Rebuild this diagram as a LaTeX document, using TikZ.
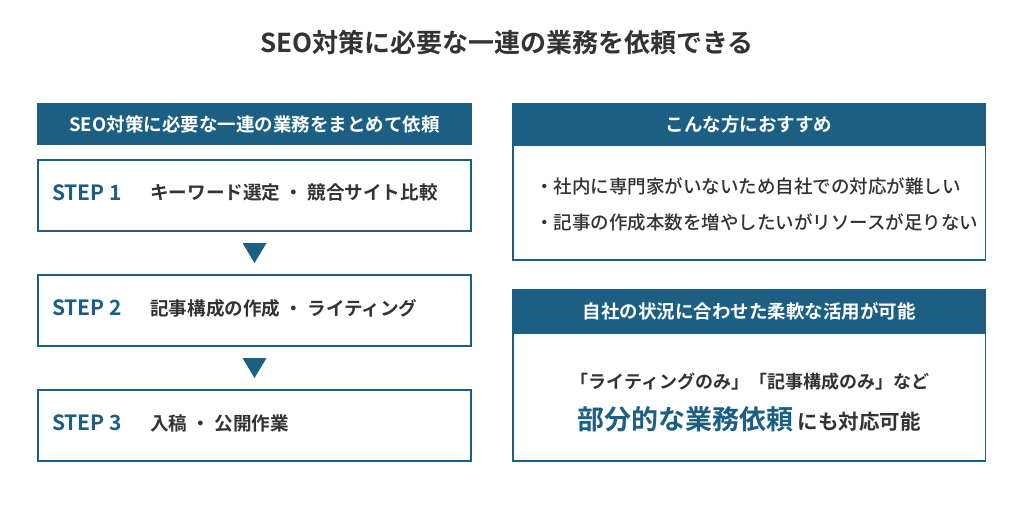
\documentclass[tikz,border=0pt]{standalone}
\usepackage{fontspec}
\setmainfont{Noto Sans CJK JP}[BoldFont={Noto Sans CJK JP Bold}]
\newfontfamily\jpmed{Noto Sans CJK JP Medium}
\usetikzlibrary{calc}
\definecolor{mainblue}{HTML}{1C5F82}
\definecolor{txt}{HTML}{333333}
\tikzset{
  hdr/.style={fill=mainblue, draw=none, minimum width=435pt, minimum height=42pt, inner sep=0pt,
    text=white, font=\fontsize{18.5}{20}\selectfont\bfseries},
  stepbox/.style={draw=mainblue, line width=2pt, fill=white, minimum width=433pt, minimum height=71pt, inner sep=0pt},
  steplabel/.style={anchor=west, inner sep=0pt, text=mainblue, font=\fontsize{21}{24}\selectfont\bfseries},
  steptext/.style={anchor=west, inner sep=0pt, text=txt, font=\fontsize{18.6}{20}\selectfont\bfseries},
  rhdr/.style={fill=mainblue, draw=none, minimum width=474pt, inner sep=0pt,
    text=white, font=\fontsize{18.5}{20}\selectfont\bfseries},
  rbody/.style={draw=mainblue, line width=1.5pt, fill=white, minimum width=472.5pt, inner sep=0pt},
  rtext/.style={anchor=west, inner sep=0pt, text=txt, font=\jpmed\fontsize{18.5}{20}\selectfont},
  tri/.style={fill=mainblue, draw=none},
}
\begin{document}
\begin{tikzpicture}[x=1pt, y=-1pt]
\useasboundingbox (0,0) rectangle (1024,508);
\fill[white] (0,0) rectangle (1024,508);

\node[inner sep=0pt, text=txt, font=\fontsize{26}{30}\selectfont\bfseries] (title) at (507,42.5) {SEO対策に必要な一連の業務を依頼できる};

% left column
\node[hdr] (lh) at (254.5,124) {SEO対策に必要な一連の業務をまとめて依頼};
\node[stepbox] (s1) at (254.5,195.5) {};
\node[stepbox] (s2) at (254.5,310.5) {};
\node[stepbox] (s3) at (254.5,425.5) {};

\node[steplabel] (l1) at (52,192.5) {STEP 1};
\node[steptext] (t1) at (150,192.5) {キーワード選定 ・ 競合サイト比較};
\node[steplabel] (l2) at (52,308) {STEP 2};
\node[steptext] (t2) at (150,308) {記事構成の作成 ・ ライティング};
\node[steplabel] (l3) at (52,423) {STEP 3};
\node[steptext] (t3) at (150,423) {入稿 ・ 公開作業};

\fill[tri] ($(s1.south)+(-12,11)$) -- ($(s1.south)+(12,11)$) -- ($(s1.south)+(0,31)$) -- cycle;
\fill[tri] ($(s2.south)+(-12,11)$) -- ($(s2.south)+(12,11)$) -- ($(s2.south)+(0,31)$) -- cycle;

% right column
\node[rbody, minimum height=115pt] (rb1) at (749,202.5) {};
\node[rhdr, minimum height=42pt] (rh1) at (749,124) {こんな方におすすめ};
\node[rtext] (r11) at (535,186) {・社内に専門家がいないため自社での対応が難しい};
\node[rtext] (r12) at (535,222) {・記事の作成本数を増やしたいがリソースが足りない};

\node[rbody, minimum height=128pt] (rb2) at (749,397) {};
\node[rhdr, minimum height=44pt] (rh2) at (749,311) {自社の状況に合わせた柔軟な活用が可能};
\node[inner sep=0pt, text=txt, font=\fontsize{18}{20}\selectfont\bfseries] (r21) at (750,382) {「ライティングのみ」「記事構成のみ」など};
\node[inner sep=0pt, text=txt, font=\fontsize{20.5}{24}\selectfont\bfseries] (r22) at (749,419) {\textcolor{mainblue}{\fontsize{27}{28}\selectfont 部分的な業務依頼} にも対応可能};
\end{tikzpicture}
\end{document}
